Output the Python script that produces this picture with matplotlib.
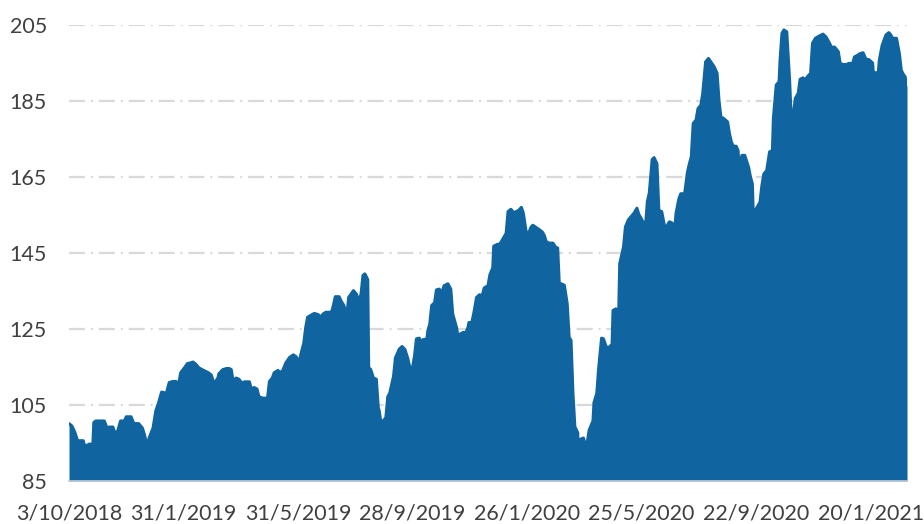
import matplotlib
matplotlib.use('Agg')
import matplotlib.pyplot as plt

# days since 3/10/2018 and index level
days = [0, 3, 6, 9, 15, 16, 20, 21, 25, 26, 28, 37, 39, 41, 42, 46, 48, 51, 54, 58,
        60, 65, 68, 73, 77, 79, 82, 84, 88, 91, 94, 97, 102, 105, 109, 112, 115, 117, 121, 124,
        126, 130, 133, 136, 141, 146, 149, 152, 156, 157, 161, 165, 168, 170, 172, 175, 178, 181, 184, 189,
        191, 194, 197, 199, 203, 208, 210, 213, 215, 219, 221, 224, 227, 231, 235, 238, 241, 243, 246, 248,
        250, 254, 257, 261, 264, 266, 269, 275, 277, 279, 283, 285, 288, 291, 293, 298, 301, 304, 306, 308,
        310, 313, 314, 316, 319, 322, 324, 325, 327, 329, 332, 334, 336, 340, 342, 346, 349, 352, 355, 357,
        359, 362, 364, 367, 369, 371, 375, 376, 378, 380, 383, 385, 388, 390, 393, 397, 400, 402, 406, 408,
        410, 413, 416, 418, 419, 422, 424, 427, 430, 433, 435, 439, 441, 444, 445, 449, 451, 453, 455, 458,
        460, 463, 466, 471, 474, 476, 479, 482, 484, 486, 489, 493, 496, 498, 500, 503, 507, 510, 512, 514,
        516, 519, 522, 524, 526, 528, 530, 533, 534, 536, 539, 542, 545, 549, 550, 553, 555, 558, 560, 563,
        566, 569, 570, 573, 576, 577, 581, 583, 586, 589, 592, 595, 597, 602, 604, 606, 608, 611, 613, 616,
        618, 621, 624, 626, 629, 632, 634, 636, 639, 641, 645, 648, 650, 652, 654, 657, 659, 662, 664, 667,
        670, 673, 676, 679, 681, 683, 686, 690, 692, 694, 696, 699, 701, 702, 705, 708, 712, 714, 716, 717,
        719, 722, 724, 726, 728, 731, 734, 737, 738, 741, 744, 745, 747, 749, 752, 755, 757, 759, 761, 764,
        766, 769, 771, 774, 777, 779, 782, 786, 790, 793, 796, 799, 802, 806, 808, 811, 815, 817, 821, 823,
        826, 829, 832, 835, 838, 842, 843, 845, 848, 849, 852, 856, 859, 861, 863, 867, 870, 872, 874, 876,
        878]
values = [100.1, 99.5, 97.9, 95.6, 95.6, 94.4, 94.4, 94.7, 94.7, 100.4, 100.8, 100.8, 99.5, 97.7, 99.2, 99.2, 97.7, 98.1, 100.8, 100.8,
          101.9, 101.9, 100.1, 100.1, 98.9, 97.2, 94.2, 96.4, 98.9, 103.5, 105.7, 108.4, 108.1, 110.9, 111.2, 111.2, 110.6, 113.5, 114.8, 115.9,
          116.0, 116.3, 115.7, 114.8, 114.1, 113.5, 112.9, 110.6, 112.1, 113.2, 114.3, 114.6, 114.6, 114.3, 111.2, 112.1, 111.8, 110.8, 111.1, 111.1,
          109.2, 109.6, 109.2, 107.2, 106.8, 106.8, 111.2, 112.1, 113.5, 114.1, 113.5, 114.1, 116.0, 117.5, 118.2, 117.7, 116.2, 118.4, 121.3, 125.4,
          128.1, 128.7, 129.1, 128.8, 128.1, 128.9, 129.4, 129.4, 131.2, 133.5, 133.5, 132.4, 131.2, 128.4, 133.3, 135.1, 134.2, 132.4, 134.2, 139.1,
          139.5, 138.0, 114.8, 114.4, 112.1, 111.8, 104.4, 103.5, 100.0, 100.8, 101.7, 107.2, 108.1, 112.5, 117.4, 119.7, 120.4, 119.6, 117.2, 115.0,
          113.5, 117.9, 122.4, 122.6, 121.6, 122.2, 122.4, 124.6, 126.3, 131.2, 131.9, 135.3, 135.5, 134.2, 136.4, 136.9, 135.5, 129.0, 125.4, 122.4,
          123.7, 124.1, 124.1, 125.4, 126.7, 126.7, 129.0, 133.3, 134.0, 133.8, 135.8, 136.4, 139.3, 141.1, 146.8, 147.3, 147.3, 148.0, 148.9, 150.2,
          155.9, 156.5, 155.6, 156.2, 157.0, 155.5, 150.5, 150.4, 151.8, 152.3, 151.8, 151.1, 150.5, 149.6, 148.0, 147.6, 147.6, 146.5, 146.3, 135.1,
          136.9, 136.5, 131.6, 122.8, 122.0, 108.1, 99.3, 97.7, 91.1, 96.0, 96.3, 93.6, 98.4, 100.8, 105.6, 108.1, 114.8, 122.6, 122.4, 120.2,
          120.2, 121.0, 129.9, 130.3, 129.9, 142.2, 146.6, 151.9, 153.7, 154.6, 155.5, 156.8, 155.2, 152.9, 152.0, 158.6, 160.8, 169.6, 170.1, 168.5,
          156.2, 155.9, 152.0, 151.9, 153.2, 152.9, 148.8, 155.4, 159.3, 160.6, 160.6, 166.3, 168.5, 170.3, 179.1, 180.0, 183.0, 183.9, 187.0, 195.3,
          196.2, 195.1, 194.0, 192.3, 185.2, 180.8, 180.4, 179.5, 176.4, 174.2, 173.1, 173.1, 172.0, 167.6, 170.7, 170.7, 167.6, 165.0, 163.2, 154.4,
          156.2, 157.5, 158.4, 162.8, 165.8, 166.7, 171.6, 172.0, 180.4, 189.2, 190.1, 195.8, 202.8, 203.7, 203.2, 190.5, 178.6, 181.7, 185.7, 187.0,
          190.7, 191.1, 190.5, 191.5, 192.3, 200.2, 201.5, 202.1, 202.6, 201.9, 200.6, 199.1, 199.2, 198.0, 194.9, 194.6, 194.6, 194.9, 194.9, 196.6,
          197.0, 197.5, 197.7, 196.0, 195.9, 195.0, 191.4, 192.4, 192.6, 195.8, 199.7, 202.4, 203.0, 202.4, 201.5, 201.5, 197.5, 193.1, 192.1, 191.4,
          188.7]

tick_days = [0, 120, 240, 360, 480, 600, 720, 840]
tick_labels = ['3/10/2018', '31/1/2019', '31/5/2019', '28/9/2019',
               '26/1/2020', '25/5/2020', '22/9/2020', '20/1/2021']
y_ticks = [85, 105, 125, 145, 165, 185, 205]

plt.rcParams['font.family'] = ['Lato', 'DejaVu Sans']
plt.rcParams['lines.scale_dashes'] = False

fig = plt.figure(figsize=(9.24, 5.24), dpi=100)
ax = fig.add_axes([69 / 924, 1 - 481 / 524, 838 / 924, 456 / 524])

blue = '#1064a0'
for yv in y_ticks[1:]:
    ax.axhline(yv, color='#d9d9d9', lw=1.6, dashes=(11.5, 4.3, 1.4, 4.3), zorder=0)

ax.fill_between(days, values, 85, color=blue, lw=0, zorder=2)
ax.plot(days, values, color=blue, lw=2.2, solid_joinstyle='round',
        solid_capstyle='round', zorder=2)

ax.set_xlim(0, 878)
ax.set_ylim(85, 205)
ax.set_xticks(tick_days)
ax.set_xticklabels(tick_labels)
ax.set_yticks(y_ticks)
ax.tick_params(axis='both', length=0, labelsize=15.5, colors='#404040')
ax.tick_params(axis='x', pad=16)
ax.tick_params(axis='y', pad=16)

for s in ['top', 'right', 'left']:
    ax.spines[s].set_visible(False)
ax.spines['bottom'].set_color('#c5ccd4')
ax.spines['bottom'].set_linewidth(1.2)
ax.spines['bottom'].set_zorder(3)

fig.savefig('out.png', dpi=100)
